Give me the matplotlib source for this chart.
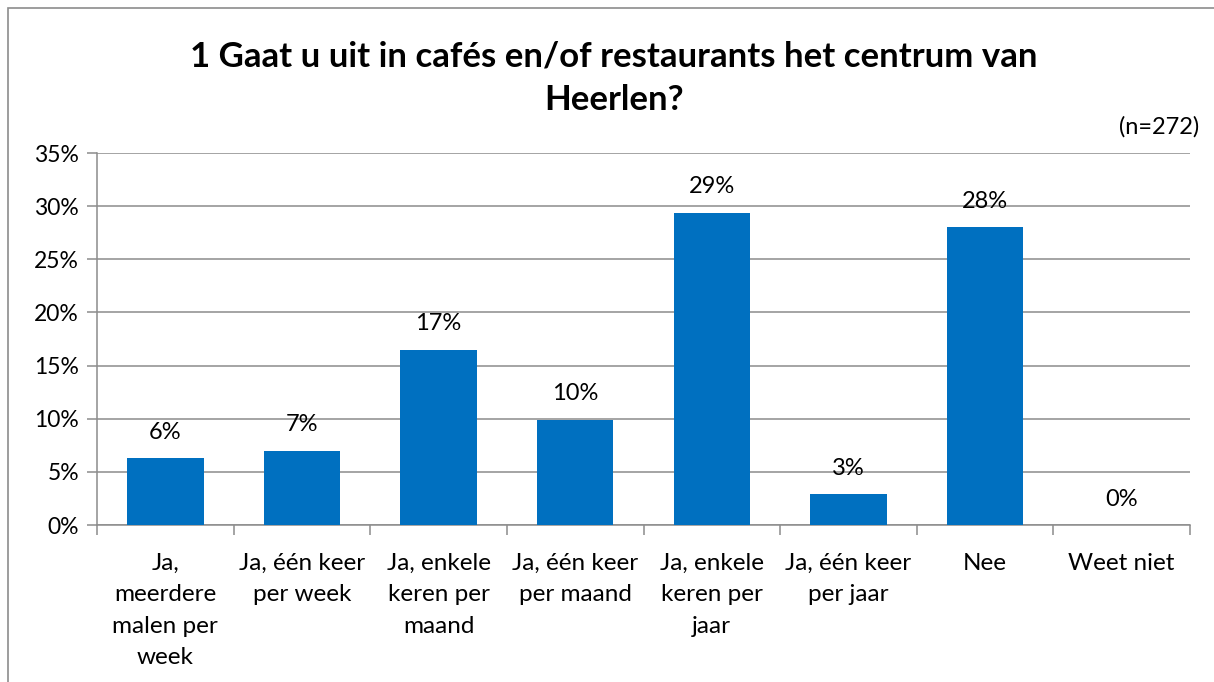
import matplotlib
matplotlib.use("Agg")
import matplotlib.pyplot as plt
from matplotlib.patches import Rectangle
import numpy as np

categories = ["Ja,\nmeerdere\nmalen per\nweek", "Ja, één keer\nper week", "Ja, enkele\nkeren per\nmaand",
              "Ja, één keer\nper maand", "Ja, enkele\nkeren per\njaar", "Ja, één keer\nper jaar", "Nee", "Weet niet"]
values = [6.3, 7.0, 16.5, 9.9, 29.4, 2.9, 28.0, 0.0]
labels = ["6%", "7%", "17%", "10%", "29%", "3%", "28%", "0%"]
yticks = [0, 5, 10, 15, 20, 25, 30, 35]

FONT = "Lato"
plt.rcParams['font.family'] = [FONT, 'DejaVu Sans']

W, H = 1214, 682
fig = plt.figure(figsize=(W/100, H/100), dpi=100)
fig.patches.append(Rectangle((8/W, -0.01), 1.1, 1 - 8/H + 0.01, transform=fig.transFigure,
                             fill=False, edgecolor="#8c8c8c", linewidth=1.2))

ax = fig.add_axes([97/W, 1-525/H, (1190-97)/W, (525-153)/H])
x = np.arange(len(categories))
ax.bar(x, values, width=0.56, color="#0070C0", zorder=3)
ax.set_xlim(-0.5, len(categories)-0.5)
ax.set_ylim(0, 35)
ax.set_yticks(yticks)
ax.set_yticklabels([f"{t}%" for t in yticks], fontsize=16.5)
ax.yaxis.grid(True, color="#8c8c8c", linewidth=1.1, zorder=0)
ax.set_xticks(x)
ax.set_xticklabels(categories, fontsize=17.5, linespacing=1.62, va="top")
ax.xaxis.set_minor_locator(matplotlib.ticker.FixedLocator(np.arange(-0.5, len(categories), 1)))
ax.tick_params(axis="x", which="major", length=0, pad=20)
ax.tick_params(axis="x", which="minor", length=7, color="#8c8c8c", width=1.1)
ax.tick_params(axis="y", length=7, color="#8c8c8c", width=1.1, pad=6)
for s in ["top", "right"]:
    ax.spines[s].set_visible(False)
for s in ["left", "bottom"]:
    ax.spines[s].set_color("#8c8c8c")
    ax.spines[s].set_linewidth(1.1)

for xi, v, l in zip(x, values, labels):
    ax.annotate(l, (xi, v), xytext=(0, 11), textcoords="offset points",
                ha="center", va="bottom", fontsize=17)

fig.text(614/W, 1-57/H, "1 Gaat u uit in cafés en/of restaurants het centrum van",
         ha="center", va="center", fontsize=25, fontweight="bold")
fig.text(614/W, 1-100/H, "Heerlen?", ha="center", va="center", fontsize=25, fontweight="bold")
fig.text(1199/W, 1-127/H, "(n=272)", ha="right", va="center", fontsize=17)

fig.savefig("out.png", dpi=100)
